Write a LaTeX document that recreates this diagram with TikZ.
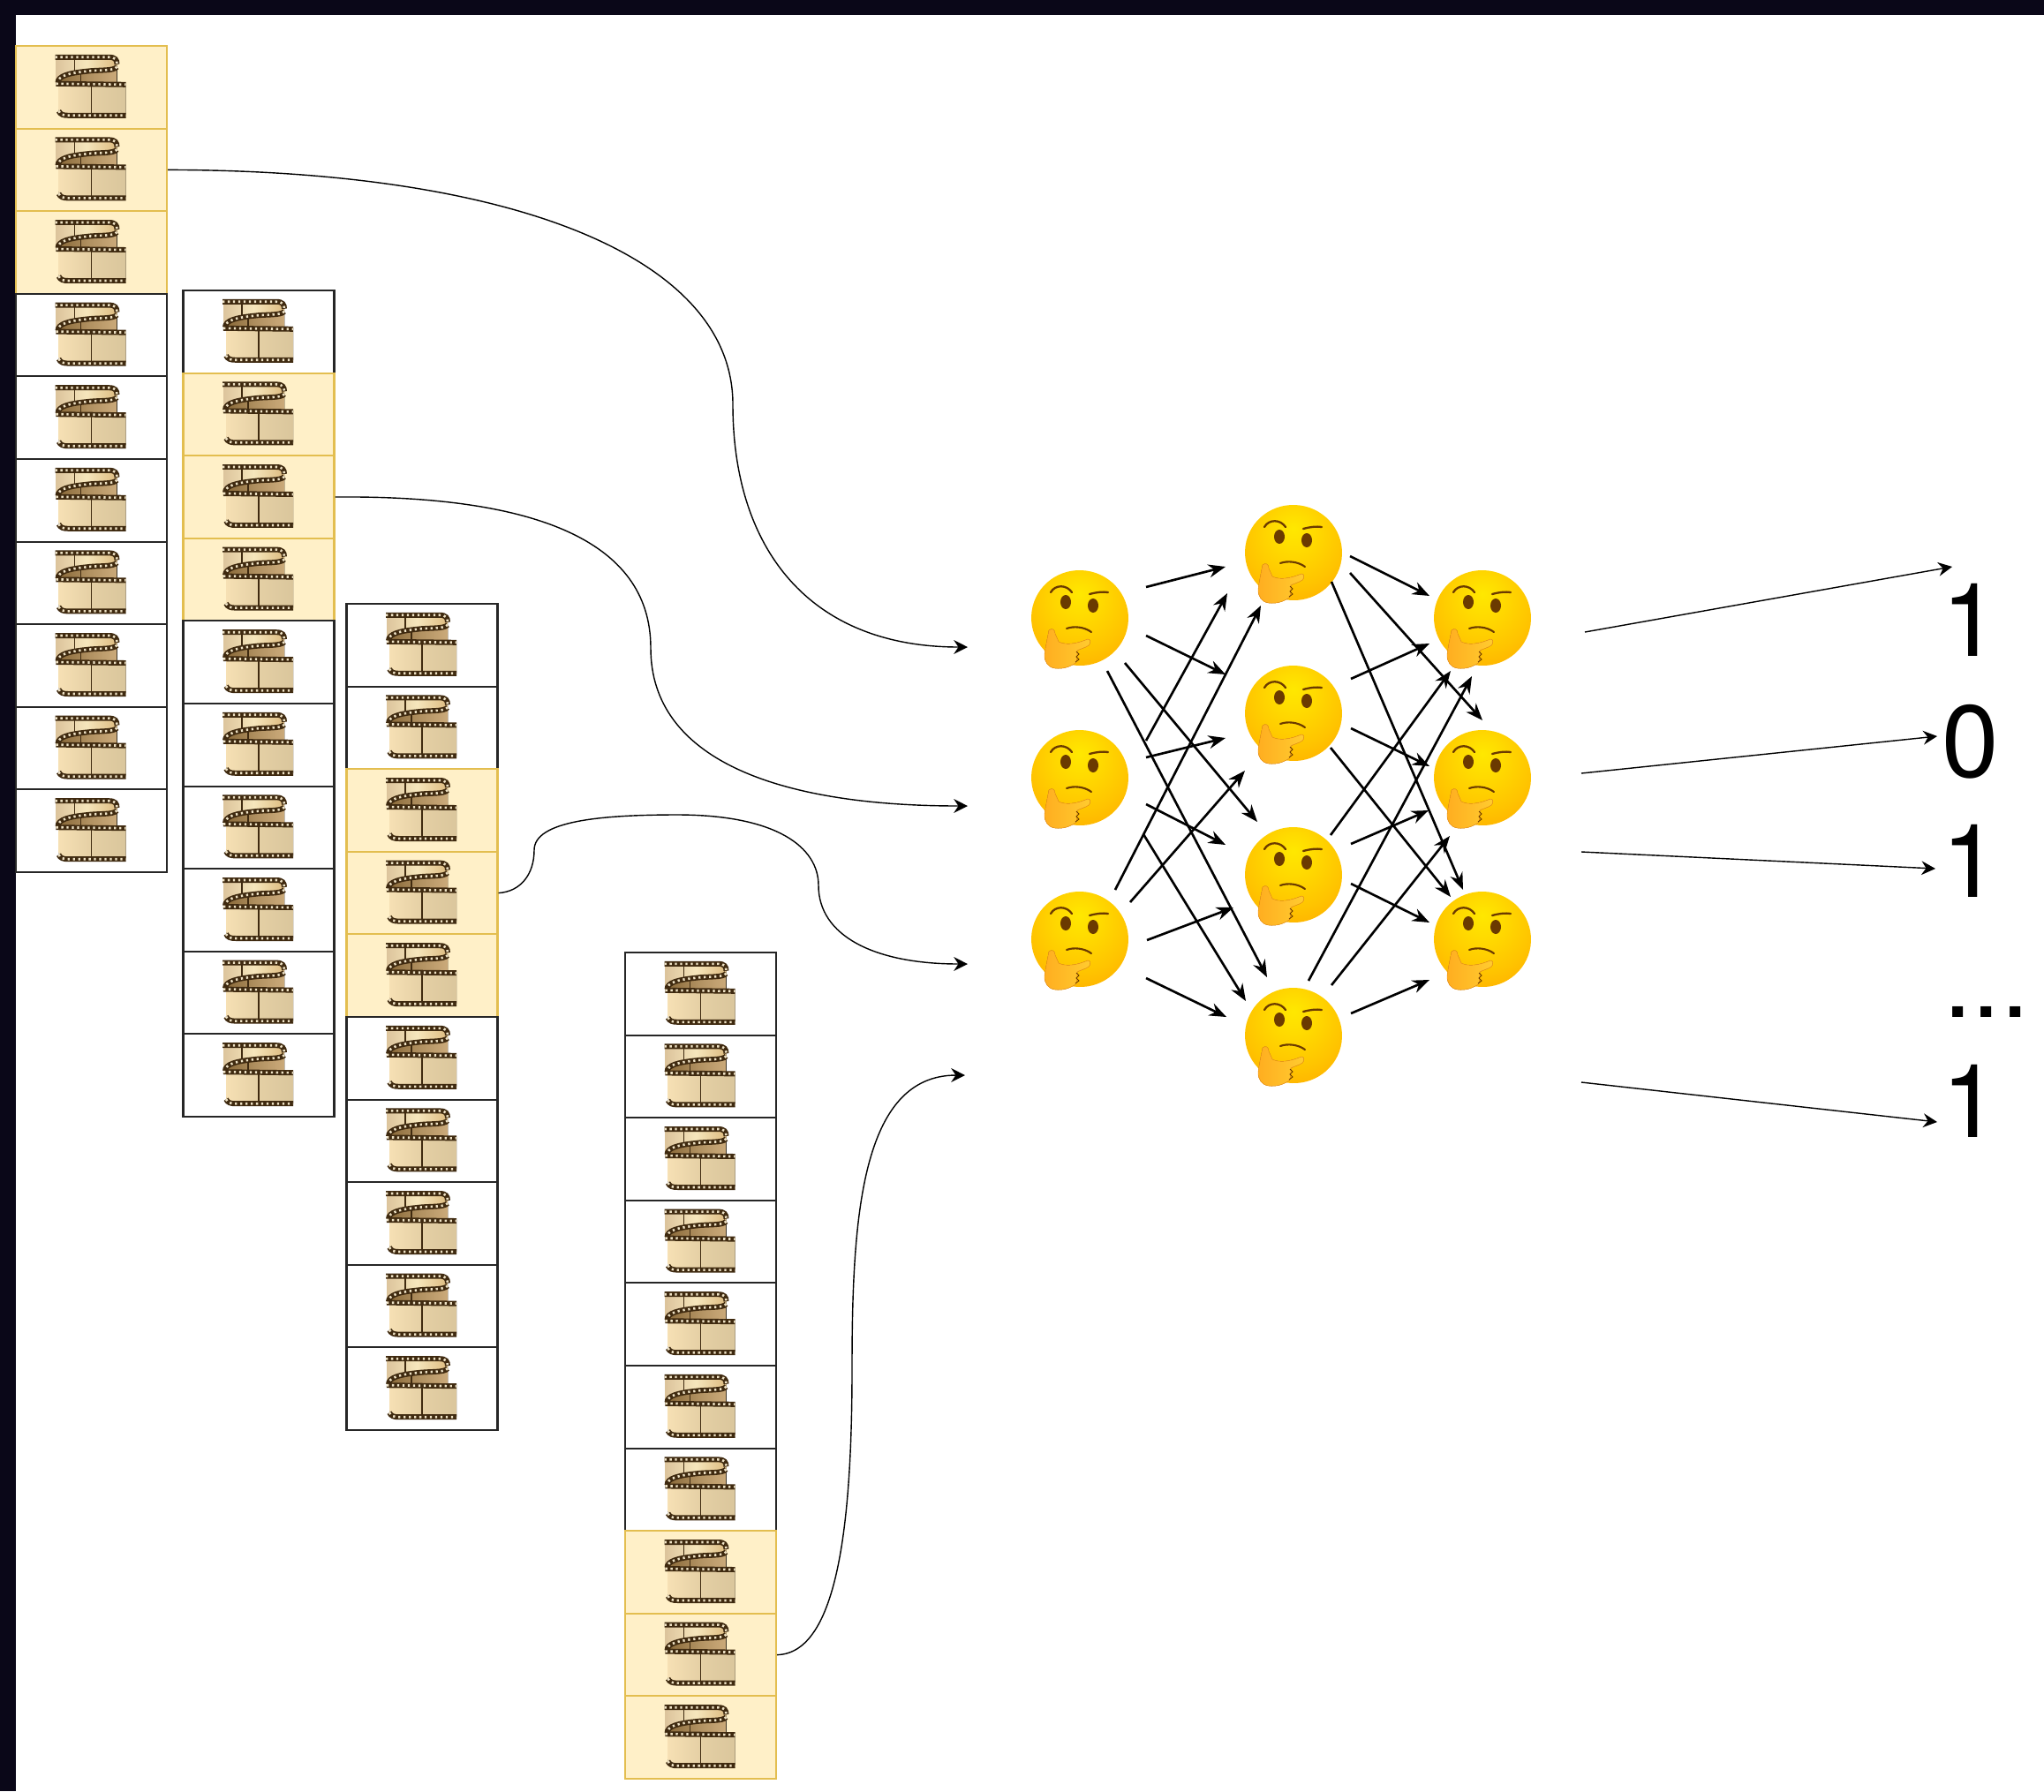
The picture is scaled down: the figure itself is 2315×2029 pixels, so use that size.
\documentclass[tikz,border=0pt]{standalone}
\usepackage{fontspec}
\setmainfont{TeX Gyre Heros}
\usetikzlibrary{arrows.meta}

\definecolor{framedark}{HTML}{0A0718}
\definecolor{hifill}{HTML}{FFF0C8}
\definecolor{hiline}{HTML}{E3BE50}
\definecolor{reeldark}{HTML}{3F2A10}
\definecolor{reellight}{HTML}{EFE3C6}
\definecolor{reeltopl}{HTML}{DCC49C}
\definecolor{reeltopm}{HTML}{F6E6BC}
\definecolor{reeltopr}{HTML}{DDBB80}
\definecolor{reelinl}{HTML}{8A6A3A}
\definecolor{reelinm}{HTML}{B09060}
\definecolor{reelinr}{HTML}{CBAA7A}
\definecolor{reelfrl}{HTML}{F6E0B4}
\definecolor{reelfrm}{HTML}{E4CFA4}
\definecolor{reelfrr}{HTML}{DAC69C}
\definecolor{facemid}{HTML}{FFE800}
\definecolor{facea}{HTML}{FFDA00}
\definecolor{faceb}{HTML}{FFC400}
\definecolor{facec}{HTML}{FFA800}
\definecolor{faceedge}{HTML}{F08400}
\definecolor{faceline}{HTML}{6B3A00}
\definecolor{handl}{HTML}{FFAE20}
\definecolor{handr}{HTML}{FFCC30}
\definecolor{handline}{HTML}{F59A1A}

\pgfdeclareradialshading{facegrad}{\pgfpoint{0bp}{12bp}}{
  color(0bp)=(facemid); color(10bp)=(facea); color(24bp)=(faceb);
  color(38bp)=(facec); color(52bp)=(faceedge); color(70bp)=(faceedge)}

\tikzset{
  cell/.style={draw=black!85,fill=white,line width=1.2pt,minimum width=3.42cm,minimum height=1.872cm,inner sep=0pt},
  hicell/.style={draw=hiline,fill=hifill,line width=1.2pt,minimum width=3.42cm,minimum height=1.872cm,inner sep=0pt},
  perfs/.style={draw=reeldark,line width=3.4pt,
    postaction={draw=reellight,line width=1.5pt,dash pattern=on 1.3pt off 2.1pt}},
  thinker/.style={circle,inner sep=0pt,minimum size=2.18cm},
  digit/.style={inner sep=0pt,font=\fontsize{66}{70}\selectfont},
  netarrow/.style={-{Stealth[length=11pt,width=8.5pt]},line width=1.5pt,black},
  curvearrow/.style={-{Stealth[length=9pt,width=9pt,inset=3pt]},line width=0.8pt,black},
  filmroll/.pic={
    % back of the reel
    \fill[left color=reeltopl,right color=reeltopr,middle color=reeltopm]
      (-40,-34) -- (20,-34) .. controls (27,-34) and (29,-31) .. (29,-26) -- (29,-4) -- (-40,-4) -- cycle;
    \fill[left color=reelinl,right color=reelinr,middle color=reelinm]
      (-36,-12) .. controls (-20,-20) and (10,-19) .. (29,-20) -- (29,-4) -- (-36,-4) -- cycle;
    \draw[reeldark,line width=0.9pt] (-19,-33) -- (-19,-19) (-12,-17) -- (-12,-5);
    \draw[perfs] (-41,-34) -- (20,-34) .. controls (27,-34) and (29,-31) .. (29,-26);
    \draw[perfs] (29,-23) .. controls (25,-18) and (8,-20) .. (-6,-18) .. controls (-25,-16) and (-38,-13) .. (-38,-5);
    % front of the reel
    \fill[left color=reelfrl,right color=reelfrr,middle color=reelfrm]
      (-37,-4) -- (39,-4) -- (39,32) -- (-28,32) .. controls (-34,32) and (-37,28) .. (-37,24) -- cycle;
    \draw[perfs] (-40,-4) -- (39,-3);
    \draw[perfs] (-37,27) .. controls (-35,31) and (-32,32) .. (-26,32) -- (39,32);
    \draw[reeldark,line width=0.9pt] (0,-2) -- (0,30);
  },
  thinkface/.pic={
    \shade[shading=facegrad,rotate=-8] (0,0) circle[x radius=55,y radius=54];
    % brows, eyes, mouth
    \draw[faceline,line width=1.3pt,line cap=round] (-33,-29) .. controls (-28,-38) and (-15,-38) .. (-9,-29);
    \draw[faceline,line width=1.3pt,line cap=round] (11,-27) .. controls (18,-29) and (26,-30) .. (32,-29);
    \fill[faceline] (-16,-18) circle[x radius=6,y radius=8];
    \fill[faceline] (15,-14) circle[x radius=6,y radius=8];
    \draw[faceline,line width=1.2pt,line cap=round] (-15,12) .. controls (-7,9) and (5,10) .. (13,16);
    % hand
    \fill[left color=handl,right color=handr,draw=handline,line width=0.3pt]
      (-35,14) .. controls (-32,11) and (-28,13) .. (-28,18) -- (-24,27) .. controls (-15,32) and (0,28) .. (9,24)
      .. controls (12,24) and (13,28) .. (10,31) .. controls (6,34) and (0,35) .. (-3,37)
      .. controls (-3,43) and (-3,49) .. (-5,51) .. controls (-12,56) and (-20,58) .. (-28,57)
      .. controls (-36,56) and (-40,50) .. (-40,42) .. controls (-39,34) and (-37,24) .. (-35,14) -- cycle;
    \draw[faceline,line width=0.5pt] (-4,38) -- (-1,41) -- (-4,44) -- (-1,47) -- (-5,50);
  }
}

\begin{document}
\begin{tikzpicture}[x=0.02cm,y=-0.02cm]
\useasboundingbox (0,0) rectangle (2315,2029);
\fill[framedark] (0,0) rectangle (2315,17);
\fill[framedark] (0,0) rectangle (18,2029);

% columns of films, the marked rows in yellow
\foreach \col/\x/\top/\first/\last in {a/103.5/52/1/3,b/293/329/2/4,c/478/684/3/5,d/793.5/1079/8/10}{
  \foreach \r in {1,...,10}{
    \def\sty{hicell}
    \ifnum\r<\first \def\sty{cell}\fi
    \ifnum\r>\last \def\sty{cell}\fi
    \node[\sty] (\col\r) at (\x,{\top+93.6*(\r-0.5)}) {};
    \pic at (\col\r) {filmroll};
  }
}

% the network
\foreach \n/\x/\y in {e1/1223/700,e2/1223/881,e3/1223/1064,
                      m1/1465/626,m2/1465/808,m3/1465/991,m4/1465/1173,
                      o1/1679/700,o2/1679/881,o3/1679/1064}{
  \node[thinker] (\n) at (\x,\y) {};
  \pic at (\n) {thinkface};
}

\foreach \a/\ax/\ay/\b/\bx/\by in {
  e1/75/-35/m1/-77/16, e1/75/20/m2/-77/-44, e1/51/51/m3/-41/-60, e1/31/60/m4/-30/-66,
  e2/75/-42/m1/-75/46, e2/75/-23/m2/-77/28, e2/75/30/m3/-77/-34, e2/72/64/m4/-54/-39,
  e3/40/-56/m1/-37/60, e3/57/-42/m2/-55/65, e3/76/1/m3/-68/37, e3/75/44/m4/-76/-21,
  m1/64/4/o1/-60/-25, m1/64/23/o2/0/-65, m1/43/33/o3/-22/-56,
  m2/65/-39/o1/-60/29, m2/65/17/o2/-60/-13, m2/42/39/o3/-36/-48,
  m3/42/-45/o1/-36/60, m3/65/-35/o2/-61/37, m3/65/10/o3/-60/-19,
  m4/17/-62/o1/-12/66, m4/43/-57/o2/-37/66, m4/65/-25/o3/-60/46}{
  \draw[netarrow] ([shift={(\ax,\ay)}]\a.center) -- ([shift={(\bx,\by)}]\b.center);
}

% films into the network
\coordinate (in1) at (1096,733);
\coordinate (in2) at (1096,913);
\coordinate (in3) at (1096,1092);
\coordinate (in4) at (1093,1218);
\draw[curvearrow] (a2.east) .. controls (590,193) and (830,295) .. (830,458)
  .. controls (830,620) and (915,733) .. (in1);
\draw[curvearrow] (b3.east) .. controls (600,561) and (737,610) .. (737,734)
  .. controls (737,860) and (880,913) .. (in2);
\draw[curvearrow] (c4.east) .. controls (590,1010) and (605,990) .. (605,963)
  .. controls (605,930) and (680,923) .. (767,923)
  .. controls (880,923) and (927,960) .. (927,1003)
  .. controls (927,1060) and (990,1092) .. (in3);
\draw[curvearrow] (d9.east) .. controls (950,1873) and (965,1720) .. (965,1550)
  .. controls (965,1380) and (975,1218) .. (in4);

% outputs
\node[digit] (d1) at (2232,702) {1};
\node[digit] (d2) at (2232,840) {0};
\node[digit] (d3) at (2232,975) {1};
\node[digit] (d4) at (2250,1146) {...};
\node[digit] (d5) at (2232,1247) {1};
\draw[curvearrow] ([shift={(116,16)}]o1.center) -- ([shift={(-21,-60)}]d1.center);
\draw[curvearrow] ([shift={(112,-5)}]o2.center) -- ([shift={(-38,-6)}]d2.center);
\draw[curvearrow] ([shift={(112,-99)}]o3.center) -- ([shift={(-40,9)}]d3.center);
\draw[curvearrow] ([shift={(112,162)}]o3.center) -- ([shift={(-38,24)}]d5.center);
\end{tikzpicture}
\end{document}
